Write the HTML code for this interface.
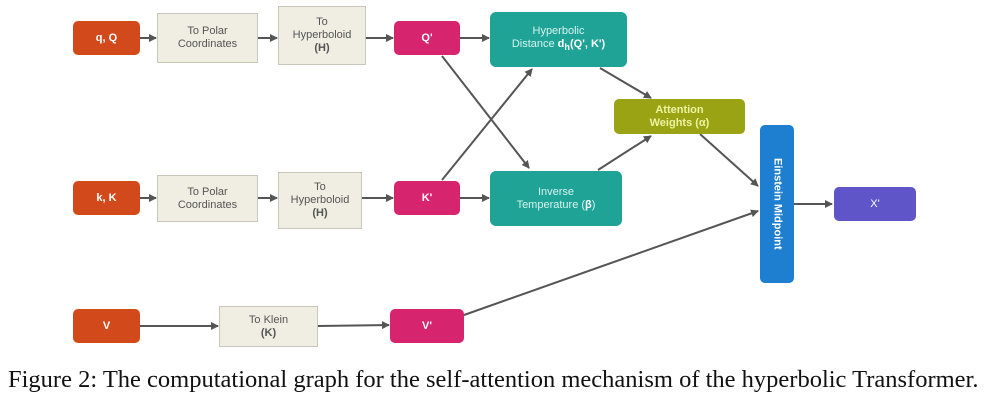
<!DOCTYPE html>
<html><head><style>
body{margin:0;width:990px;height:402px;background:#fff;position:relative;overflow:hidden;font-family:"Liberation Sans",sans-serif}
.b{position:absolute;display:flex;align-items:center;justify-content:center;text-align:center;box-sizing:border-box;font-size:11px;line-height:13px}
.o{background:#d24a1c;color:#fff;font-weight:bold;border-radius:5px}
.g{background:#f0ede2;border:1px solid #c9c6ba;color:#555}
.p{background:#d6246e;color:#fff;font-weight:bold;border-radius:5px}
.t{background:#1fa396;color:#d6f3ef;border-radius:6px}
.cap{position:absolute;left:8px;top:366px;font-family:"Liberation Serif",serif;font-size:24.5px;color:#111;white-space:nowrap}
</style></head><body>
<svg width="990" height="402" style="position:absolute;left:0;top:0">
<defs><marker id="a" markerWidth="8" markerHeight="8" refX="7" refY="4" orient="auto" markerUnits="userSpaceOnUse"><path d="M0,0L8,4L0,8z" fill="#555"/></marker></defs>
<g stroke="#555" stroke-width="2" fill="none" marker-end="url(#a)">
<line x1="140" y1="38" x2="156" y2="38"/>
<line x1="258" y1="38" x2="277" y2="38"/>
<line x1="366" y1="38" x2="393" y2="38"/>
<line x1="460" y1="38" x2="489" y2="38"/>
<line x1="140" y1="198" x2="156" y2="198"/>
<line x1="258" y1="198" x2="277" y2="198"/>
<line x1="362" y1="198" x2="393" y2="198"/>
<line x1="460" y1="198" x2="489" y2="198"/>
<line x1="140" y1="326" x2="218" y2="326"/>
<line x1="318" y1="326" x2="389" y2="325"/>
<line x1="442" y1="56" x2="529" y2="168"/>
<line x1="442" y1="180" x2="532" y2="69"/>
<line x1="600" y1="68" x2="651" y2="98"/>
<line x1="598" y1="170" x2="651" y2="136"/>
<line x1="700" y1="134" x2="758" y2="186"/>
<line x1="464" y1="315" x2="758" y2="211"/>
<line x1="794" y1="204" x2="832" y2="204"/>
</g></svg>
<div class="b o" style="left:73px;top:21px;width:67px;height:34px"><div>q, Q</div></div>
<div class="b g" style="left:157px;top:13px;width:101px;height:50px"><div>To Polar<br>Coordinates</div></div>
<div class="b g" style="left:278px;top:6px;width:88px;height:59px"><div>To<br>Hyperboloid<br><b>(H)</b></div></div>
<div class="b p" style="left:394px;top:21px;width:66px;height:34px"><div>Q'</div></div>
<div class="b t" style="left:490px;top:12px;width:137px;height:55px"><div>Hyperbolic<br>Distance <b style="color:#fff">d<sub>h</sub>(Q', K')</b></div></div>
<div class="b" style="left:614px;top:99px;width:131px;height:35px;background:#9aa313;color:#eef3a0;font-weight:bold;border-radius:5px"><div>Attention<br>Weights (α)</div></div>
<div class="b" style="left:760px;top:125px;width:34px;height:158px;background:#1e7fd0;border-radius:5px"><span style="writing-mode:vertical-rl;color:#fff;font-weight:bold;font-size:11px">Einstein Midpoint</span></div>
<div class="b" style="left:834px;top:187px;width:82px;height:34px;background:#5f55c9;color:#fff;border-radius:5px"><div>X'</div></div>
<div class="b o" style="left:73px;top:181px;width:67px;height:34px"><div>k, K</div></div>
<div class="b g" style="left:157px;top:175px;width:101px;height:47px"><div>To Polar<br>Coordinates</div></div>
<div class="b g" style="left:278px;top:172px;width:84px;height:57px"><div>To<br>Hyperboloid<br><b>(H)</b></div></div>
<div class="b p" style="left:394px;top:181px;width:66px;height:34px"><div>K'</div></div>
<div class="b t" style="left:490px;top:171px;width:132px;height:55px"><div>Inverse<br>Temperature (<b style="color:#fff">β</b>)</div></div>
<div class="b o" style="left:73px;top:309px;width:67px;height:34px"><div>V</div></div>
<div class="b g" style="left:219px;top:306px;width:99px;height:41px"><div>To Klein<br><b>(K)</b></div></div>
<div class="b p" style="left:390px;top:309px;width:74px;height:34px"><div>V'</div></div>
<div class="cap">Figure 2: The computational graph for the self-attention mechanism of the hyperbolic Transformer.</div>
</body></html>
